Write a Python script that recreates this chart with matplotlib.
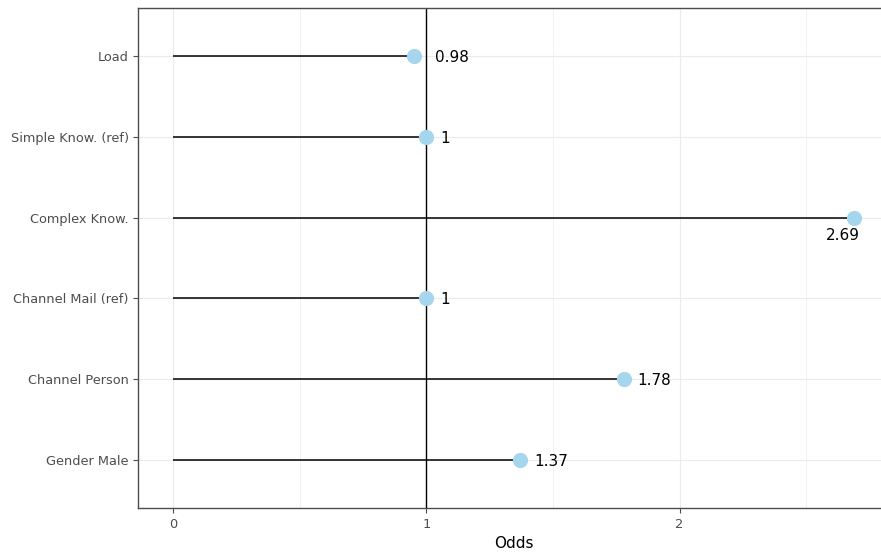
import matplotlib.pyplot as plt

# odds ratios, top to bottom as in the plot
categories = ["Load", "Simple Know. (ref)", "Complex Know.", "Channel Mail (ref)",
              "Channel Person", "Gender Male"]
odds = [0.95, 1.0, 2.69, 1.0, 1.78, 1.37]
odds_labels = ["0.98", "1", "2.69", "1", "1.78", "1.37"]
label_pos = [0.98, 1.0, 2.69, 1.0, 1.78, 1.37]
xticks = [0, 1, 2]

fig = plt.figure(figsize=(8.81, 5.57), dpi=100)
ax = fig.add_axes([138 / 881, 1 - 508 / 557, 1 - 138 / 881 + 0.01, 500 / 557])

n = len(categories)
ys = [n - i for i in range(n)]

ax.set_xlim(-0.138, 2.83)
ax.set_ylim(0.4, n + 0.6)

# ggplot-ish grid
for v in [0, 0.5, 1, 1.5, 2, 2.5]:
    ax.axvline(v, color="#ebebeb", lw=0.8 if v % 1 == 0 else 0.5, zorder=0)
for y in ys:
    ax.axhline(y, color="#ebebeb", lw=0.8, zorder=0)

ax.axvline(1, color="black", lw=1.0, zorder=1)
ax.hlines(ys, 0, odds, color="black", lw=1.1, zorder=2)
ax.scatter(odds, ys, s=120, color="#a6d5ee", zorder=3, linewidths=0)

for i, (lab, xv, y) in enumerate(zip(odds_labels, label_pos, ys)):
    if categories[i] == "Complex Know.":
        ax.annotate(lab, (xv, y), xytext=(-8, -13), textcoords="offset points",
                    ha="center", va="center", fontsize=11, color="black")
    else:
        ax.annotate(lab, (xv, y), xytext=(10, -1), textcoords="offset points",
                    ha="left", va="center", fontsize=11, color="black")

ax.set_yticks(ys)
ax.set_yticklabels(categories)
ax.set_xticks(xticks)
ax.set_xticklabels([str(t) for t in xticks])
ax.tick_params(axis="both", colors="#4d4d4d", labelsize=9.3, length=3.5, width=0.8)
ax.tick_params(axis="y", pad=3)
ax.set_xlabel("Odds", fontsize=11, labelpad=4)

for side in ["top", "bottom", "left", "right"]:
    ax.spines[side].set_color("#4d4d4d")
    ax.spines[side].set_linewidth(1.0)

fig.savefig("out.png", dpi=100)
